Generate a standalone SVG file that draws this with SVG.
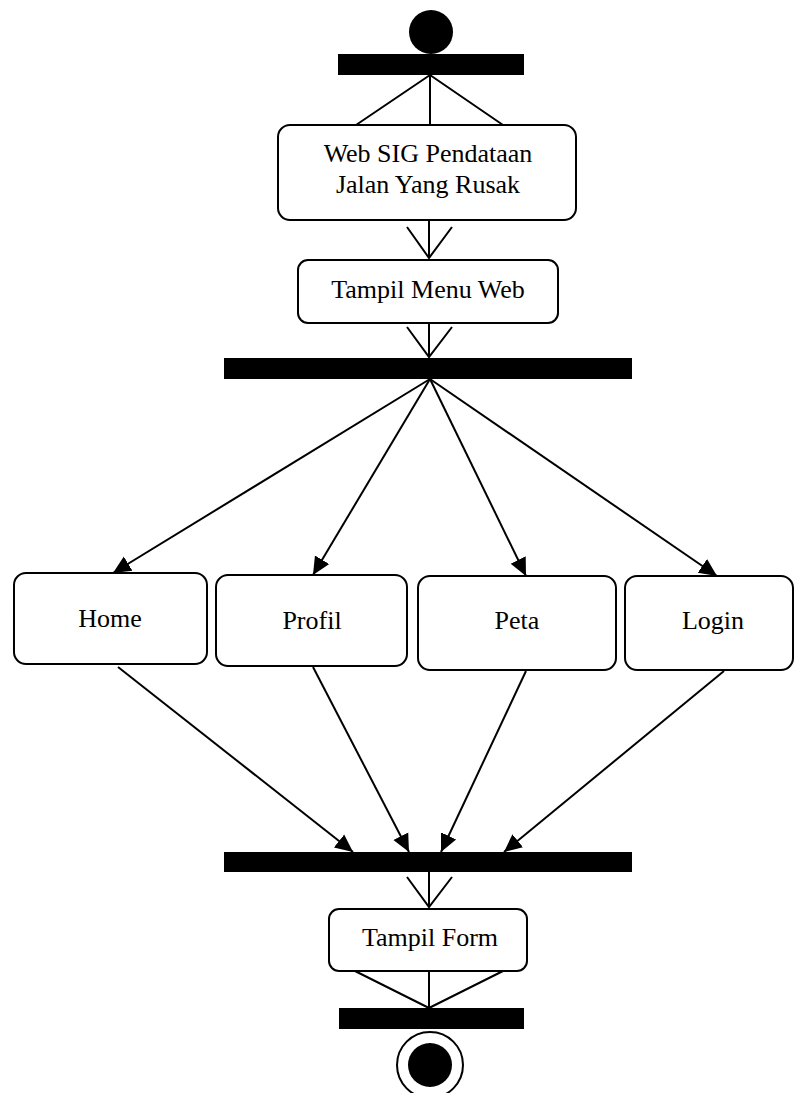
<svg xmlns="http://www.w3.org/2000/svg" width="794" height="1093" viewBox="0 0 794 1093">
  <style>
    .box { fill: #fff; stroke: #000; stroke-width: 2; }
    .bar { fill: #000; }
    .lbl { font-family: "Liberation Serif", "Times New Roman", serif; font-size: 26px; fill: #000; text-anchor: middle; }
    .ln { fill: none; stroke: #000; stroke-width: 2; }
  </style>
  <defs>
    <marker id="solid" markerUnits="userSpaceOnUse" markerWidth="20" markerHeight="20" viewBox="-16 -8 18 16" refX="0" refY="0" orient="auto">
      <path d="M0,0 L-16,-7.5 L-16,7.5 Z" fill="#000"/>
    </marker>
  </defs>

  <!-- initial state -->
  <g id="start">
    <circle cx="431" cy="32" r="22" fill="#000"/>
  </g>
  <g id="fork-top">
    <rect class="bar" x="338" y="54" width="186" height="21"/>
  </g>

  <g id="web-sig">
    <rect class="box" x="278" y="125" width="298" height="95" rx="12"/>
    <text class="lbl" x="428" y="162">Web SIG Pendataan</text>
    <text class="lbl" x="428" y="193">Jalan Yang Rusak</text>
  </g>

  <g id="menu-web">
    <rect class="box" x="298" y="260" width="260" height="63" rx="10"/>
    <text class="lbl" x="428" y="298">Tampil Menu Web</text>
  </g>

  <g id="fork-menu">
    <rect class="bar" x="224" y="358" width="408" height="21"/>
  </g>

  <g id="home">
    <rect class="box" x="14" y="573" width="193" height="91" rx="12"/>
    <text class="lbl" x="110" y="627">Home</text>
  </g>
  <g id="profil">
    <rect class="box" x="216" y="575" width="191" height="91" rx="12"/>
    <text class="lbl" x="312" y="629">Profil</text>
  </g>
  <g id="peta">
    <rect class="box" x="418" y="576" width="198" height="94" rx="12"/>
    <text class="lbl" x="517" y="629">Peta</text>
  </g>
  <g id="login">
    <rect class="box" x="625" y="576" width="168" height="94" rx="12"/>
    <text class="lbl" x="713" y="629">Login</text>
  </g>

  <g id="join-menu">
    <rect class="bar" x="224" y="852" width="408" height="20"/>
  </g>

  <g id="form">
    <rect class="box" x="329" y="909" width="198" height="62" rx="10"/>
    <text class="lbl" x="430" y="946">Tampil Form</text>
  </g>

  <g id="join-end">
    <rect class="bar" x="339" y="1008" width="185" height="21"/>
  </g>

  <g id="end">
    <circle cx="430" cy="1065" r="33" fill="#fff" stroke="#000" stroke-width="2"/>
    <circle cx="430" cy="1065" r="22" fill="#000"/>
  </g>

  <g id="connectors">
    <!-- top fork to first activity -->
    <path class="ln" d="M430,75 L356,125 M430,75 L430,125 M430,75 L503,125"/>
    <!-- Web SIG -> Tampil Menu Web -->
    <path class="ln" d="M429,220 L429,258 M407,227 L429,258 L452,227"/>
    <!-- Tampil Menu Web -> fork -->
    <path class="ln" d="M429,323 L429,357 M407,327 L429,357 L452,327"/>
    <!-- fork -> menu items -->
    <line class="ln" x1="430" y1="379" x2="113" y2="573" marker-end="url(#solid)"/>
    <line class="ln" x1="430" y1="379" x2="313" y2="575" marker-end="url(#solid)"/>
    <line class="ln" x1="430" y1="379" x2="526" y2="576" marker-end="url(#solid)"/>
    <line class="ln" x1="430" y1="379" x2="717" y2="576" marker-end="url(#solid)"/>
    <!-- menu items -> join -->
    <line class="ln" x1="118" y1="667" x2="353" y2="852" marker-end="url(#solid)"/>
    <line class="ln" x1="313" y1="667" x2="409" y2="852" marker-end="url(#solid)"/>
    <line class="ln" x1="526" y1="671" x2="441" y2="852" marker-end="url(#solid)"/>
    <line class="ln" x1="724" y1="671" x2="504" y2="852" marker-end="url(#solid)"/>
    <!-- join -> Tampil Form -->
    <path class="ln" d="M429,872 L429,907 M407,877 L429,907 L452,877"/>
    <!-- Tampil Form -> final bar -->
    <path class="ln" d="M355,971 L429,1008 M429,971 L429,1008 M503,971 L429,1008"/>
  </g>
</svg>
